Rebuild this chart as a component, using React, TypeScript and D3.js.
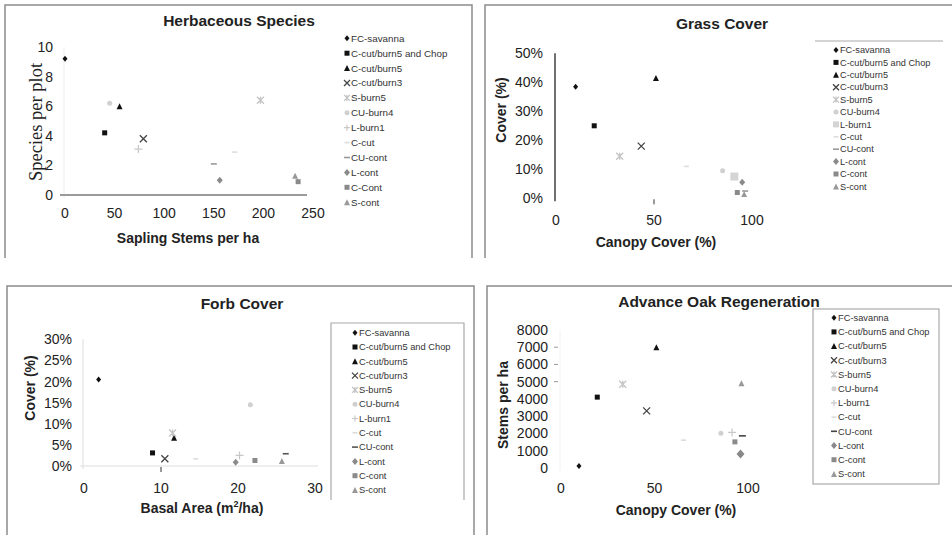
import React, { useEffect, useRef } from "react";
import * as d3 from "d3";

const seriesNames = [
  "FC-savanna",
  "C-cut/burn5 and Chop",
  "C-cut/burn5",
  "C-cut/burn3",
  "S-burn5",
  "CU-burn4",
  "L-burn1",
  "C-cut",
  "CU-cont",
  "L-cont",
  "C-cont",
  "S-cont",
];
const herbLegend = seriesNames.map((n) => (n === "C-cont" ? "C-Cont" : n));

// Herbaceous species vs sapling stems
const herbX = [0, 40, 55, 79, 197, 45, 74, 171, 150, 156, 235, 232];
const herbY = [9.2, 4.2, 6.0, 3.8, 6.4, 6.2, 3.1, 2.9, 2.1, 1.0, 0.9, 1.3];

// Grass cover vs canopy cover
const grassX = [10, 19.5, 51, 43.5, 32.5, 85, 91, 66.5, 96.5, 95, 92.5, 96];
const grassY = [0.385, 0.25, 0.415, 0.18, 0.145, 0.095, 0.075, 0.11, 0.025, 0.055, 0.02, 0.015];

// Forb cover vs basal area
const forbX = [1.9, 8.9, 11.7, 10.5, 11.5, 21.6, 20.2, 14.5, 26.2, 19.7, 22.2, 25.7];
const forbY = [0.205, 0.031, 0.067, 0.017, 0.078, 0.145, 0.025, 0.017, 0.029, 0.009, 0.013, 0.012];

// Advance oak regeneration vs canopy cover
const oakX = [9.6, 19.4, 51, 45.8, 33, 85.5, 91.5, 65.5, 97, 96, 93, 96.5];
const oakY = [100, 4100, 7000, 3300, 4850, 2000, 2050, 1600, 1850, 800, 1500, 4900];

const herbXTicks = [0, 50, 100, 150, 200, 250];
const herbYTicks = [0, 2, 4, 6, 8, 10];
const coverXTicks = [0, 50, 100];
const grassYTicks = [0, 0.1, 0.2, 0.3, 0.4, 0.5];
const forbXTicks = [0, 10, 20, 30];
const forbYTicks = [0, 0.05, 0.1, 0.15, 0.2, 0.25, 0.3];
const oakYTicks = [0, 1000, 2000, 3000, 4000, 5000, 6000, 7000, 8000];

type Mk = { t: string; s: number; c: string };
const baseMarks: Mk[] = [
  { t: "diamond", s: 5, c: "#111" },
  { t: "square", s: 5, c: "#111" },
  { t: "triangle", s: 6, c: "#111" },
  { t: "x", s: 7, c: "#444" },
  { t: "star", s: 7, c: "#c4c4c4" },
  { t: "circle", s: 5, c: "#d0d0d0" },
  { t: "plus", s: 8, c: "#c8c8c8" },
  { t: "dash", s: 5, c: "#dcdcdc" },
  { t: "dash", s: 6, c: "#999" },
  { t: "diamond", s: 6, c: "#8a8a8a" },
  { t: "square", s: 5, c: "#8a8a8a" },
  { t: "triangle", s: 6, c: "#999" },
];

function drawMark(g: any, m: Mk, x: number, y: number) {
  const h = m.s / 2;
  if (m.t === "diamond") {
    g.append("path").attr("d", `M${x},${y - h - 0.5}L${x + h},${y}L${x},${y + h + 0.5}L${x - h},${y}Z`).attr("fill", m.c);
  } else if (m.t === "square") {
    g.append("rect").attr("x", x - h).attr("y", y - h).attr("width", m.s).attr("height", m.s).attr("fill", m.c);
  } else if (m.t === "triangle") {
    g.append("path").attr("d", `M${x},${y - h}L${x + h},${y + h}L${x - h},${y + h}Z`).attr("fill", m.c);
  } else if (m.t === "circle") {
    g.append("circle").attr("cx", x).attr("cy", y).attr("r", h).attr("fill", m.c);
  } else if (m.t === "x") {
    g.append("path").attr("d", `M${x - h},${y - h}L${x + h},${y + h}M${x + h},${y - h}L${x - h},${y + h}`).attr("stroke", m.c).attr("stroke-width", 1.3);
  } else if (m.t === "star") {
    g.append("path").attr("d", `M${x - h},${y - h}L${x + h},${y + h}M${x + h},${y - h}L${x - h},${y + h}M${x},${y - h}L${x},${y + h}`).attr("stroke", m.c).attr("stroke-width", 1.3);
  } else if (m.t === "plus") {
    g.append("path").attr("d", `M${x - h},${y}L${x + h},${y}M${x},${y - h}L${x},${y + h}`).attr("stroke", m.c).attr("stroke-width", 1.2);
  } else if (m.t === "dash") {
    g.append("path").attr("d", `M${x - h},${y}L${x + h},${y}`).attr("stroke", m.c).attr("stroke-width", 1.6);
  }
}

const App: React.FC = () => {
  const svgRef = useRef<SVGSVGElement>(null);

  useEffect(() => {
    if (!svgRef.current) return;
    const svg = d3.select(svgRef.current);
    svg.selectAll("*").remove();

    const panels = [
      {
        title: "Herbaceous Species", tx: 239, ty: 26,
        frame: `M5,258V5H472V258`,
        x: d3.scaleLinear().domain([0, 250]).range([65, 313]),
        y: d3.scaleLinear().domain([0, 10]).range([195, 47]),
        xTicks: herbXTicks, yTicks: herbYTicks, yFmt: d3.format("d"),
        xTickY: 218, yTickX: 53,
        xLabel: "Sapling Stems per ha", xlx: 188, xly: 243,
        yLabel: "Species per plot", ylx: 42, yly: 122, serif: true,
        xs: herbX, ys: herbY, names: herbLegend, marks: baseMarks,
        xAxis: { c: "#9a9a9a", w: 2, x0: 60, x1: 307 }, yAxis: { c: "#eee", w: 1 },
        leg: { x: 347, y0: 38.3, dy: 14.9, fs: 9.8, box: null as any },
      },
      {
        title: "Grass Cover", tx: 722, ty: 29,
        frame: `M485,258V5H952`,
        x: d3.scaleLinear().domain([0, 100]).range([556, 752]),
        y: d3.scaleLinear().domain([0, 0.5]).range([198.3, 53.3]),
        xTicks: coverXTicks, yTicks: grassYTicks, yFmt: d3.format(".0%"),
        xTickY: 225, yTickX: 543,
        xLabel: "Canopy Cover (%)", xlx: 656, xly: 247,
        yLabel: "Cover (%)", ylx: 506, yly: 110, serif: false,
        xs: grassX, ys: grassY, names: seriesNames,
        marks: baseMarks.map((m, i) => (i === 6 ? { t: "square", s: 8, c: "#d4d4d4" } : m)),
        xAxis: null as any, yAxis: { c: "#111", w: 1.2 }, xTickMark: 50,
        leg: { x: 836, y0: 50, dy: 12.4, fs: 9.2, box: { x0: 815, x1: 943, y0: 41, top: true } },
      },
      {
        title: "Forb Cover", tx: 242, ty: 309,
        frame: `M7,540V286H474V540`,
        x: d3.scaleLinear().domain([0, 30]).range([84, 315]),
        y: d3.scaleLinear().domain([0, 0.3]).range([466, 339.3]),
        xTicks: forbXTicks, yTicks: forbYTicks, yFmt: d3.format(".0%"),
        xTickY: 493, yTickX: 72,
        xLabel: "Basal Area (m", xlx: 202, xly: 513,
        yLabel: "Cover (%)", ylx: 35, yly: 388, serif: false,
        xs: forbX, ys: forbY, names: seriesNames,
        marks: baseMarks.map((m, i) => (i === 8 ? { t: "dash", s: 6, c: "#555" } : m)),
        xAxis: { c: "#ddd", w: 1, x0: 80, x1: 318 }, yAxis: { c: "#ddd", w: 1 }, xTickMark: 10,
        leg: { x: 355, y0: 332.7, dy: 14.3, fs: 9.3, box: { x0: 331, x1: 464, y0: 323, y1: 500, open: true } },
      },
      {
        title: "Advance Oak Regeneration", tx: 719, ty: 307,
        frame: `M487,540V286H952`,
        x: d3.scaleLinear().domain([0, 100]).range([561, 748]),
        y: d3.scaleLinear().domain([0, 8000]).range([467.7, 330]),
        xTicks: coverXTicks, yTicks: oakYTicks, yFmt: d3.format("d"),
        xTickY: 493, yTickX: 548,
        xLabel: "Canopy Cover (%)", xlx: 676, xly: 515,
        yLabel: "Stems per ha", ylx: 508, yly: 405, serif: false,
        xs: oakX, ys: oakY, names: seriesNames,
        marks: baseMarks.map((m, i) =>
          i === 8 ? { t: "dash", s: 7, c: "#444" } : i === 9 ? { t: "diamond", s: 8, c: "#888" } : m
        ),
        xAxis: null as any, yAxis: { c: "#f2f2f2", w: 1 }, yTickMarks: [5000, 6000, 7000],
        leg: { x: 834, y0: 317.7, dy: 14.2, fs: 9.3, box: { x0: 813, x1: 939, y0: 309, y1: 484 } },
      },
    ];

    panels.forEach((p: any) => {
      const g = svg.append("g");
      g.append("path")
        .attr("d", p.frame)
        .attr("fill", "none")
        .attr("stroke", "#8c8c8c")
        .attr("stroke-width", 1.5);

      g.append("text")
        .attr("x", p.tx).attr("y", p.ty)
        .attr("text-anchor", "middle")
        .attr("font-family", "Liberation Sans, Arial, sans-serif")
        .attr("font-weight", "bold").attr("font-size", 15.5).attr("fill", "#222")
        .text(p.title);

      const [xr0] = p.x.range();
      const [yb, yt] = p.y.range();
      // axes
      g.append("line")
        .attr("x1", xr0 - 1).attr("x2", xr0 - 1).attr("y1", yt).attr("y2", yb + 3)
        .attr("stroke", p.yAxis.c).attr("stroke-width", p.yAxis.w);
      if (p.xAxis) {
        g.append("line")
          .attr("x1", p.xAxis.x0).attr("x2", p.xAxis.x1).attr("y1", yb).attr("y2", yb)
          .attr("stroke", p.xAxis.c).attr("stroke-width", p.xAxis.w);
      }
      if (p.xTickMark !== undefined) {
        g.append("line")
          .attr("x1", p.x(p.xTickMark)).attr("x2", p.x(p.xTickMark))
          .attr("y1", yb + 1).attr("y2", yb + 6)
          .attr("stroke", "#333").attr("stroke-width", 1);
      }
      (p.yTickMarks || []).forEach((v: number) => {
        g.append("line")
          .attr("x1", xr0 - 7).attr("x2", xr0 - 3).attr("y1", p.y(v)).attr("y2", p.y(v))
          .attr("stroke", "#999").attr("stroke-width", 1);
      });

      const tickFont = "Liberation Sans, Arial, sans-serif";
      p.xTicks.forEach((v: number) => {
        g.append("text")
          .attr("x", p.x(v)).attr("y", p.xTickY)
          .attr("text-anchor", "middle")
          .attr("font-family", tickFont).attr("font-size", 14).attr("fill", "#222")
          .text(v);
      });
      p.yTicks.forEach((v: number) => {
        g.append("text")
          .attr("x", p.yTickX).attr("y", p.y(v)).attr("dy", "0.36em")
          .attr("text-anchor", "end")
          .attr("font-family", tickFont).attr("font-size", 14).attr("fill", "#222")
          .text(p.yFmt(v));
      });

      const xl = g.append("text")
        .attr("x", p.xlx).attr("y", p.xly)
        .attr("text-anchor", "middle")
        .attr("font-family", tickFont).attr("font-weight", "bold")
        .attr("font-size", 14).attr("fill", "#222");
      if (p.xLabel === "Basal Area (m") {
        xl.append("tspan").text("Basal Area (m");
        xl.append("tspan").attr("dy", -6).attr("font-size", 9).text("2");
        xl.append("tspan").attr("dy", 6).text("/ha)");
      } else {
        xl.text(p.xLabel);
      }

      g.append("text")
        .attr("transform", `translate(${p.ylx},${p.yly}) rotate(-90)`)
        .attr("text-anchor", "middle")
        .attr("font-family", p.serif ? "Liberation Serif, Times New Roman, serif" : tickFont)
        .attr("font-weight", p.serif ? "normal" : "bold")
        .attr("font-size", p.serif ? 18.5 : 14).attr("fill", "#222")
        .text(p.yLabel);

      // points
      const pts = g.append("g");
      p.xs.forEach((xv: number, i: number) => {
        drawMark(pts, p.marks[i], p.x(xv), p.y(p.ys[i]));
      });

      // legend
      const L = p.leg;
      if (L.box) {
        if (L.box.top) {
          g.append("line").attr("x1", L.box.x0).attr("x2", L.box.x1).attr("y1", L.box.y0).attr("y2", L.box.y0)
            .attr("stroke", "#aaa").attr("stroke-width", 1.2);
        } else if (L.box.open) {
          g.append("path").attr("d", `M${L.box.x0},${L.box.y1}V${L.box.y0}H${L.box.x1}V${L.box.y1}`)
            .attr("fill", "none").attr("stroke", "#aaa").attr("stroke-width", 1.2);
        } else {
          g.append("rect").attr("x", L.box.x0).attr("y", L.box.y0)
            .attr("width", L.box.x1 - L.box.x0).attr("height", L.box.y1 - L.box.y0)
            .attr("fill", "none").attr("stroke", "#aaa").attr("stroke-width", 1.2);
        }
      }
      p.names.forEach((n: string, i: number) => {
        const ly = L.y0 + i * L.dy;
        const m = p.marks[i];
        drawMark(g, { t: m.t, s: Math.min(m.s, 6), c: m.c }, L.x, ly);
        g.append("text")
          .attr("x", L.x + 4).attr("y", ly).attr("dy", "0.35em")
          .attr("font-family", tickFont).attr("font-size", L.fs).attr("fill", "#333")
          .text(n);
      });
    });
  }, []);

  return (
    <>
      <style>{`body{margin:0}`}</style>
      <svg ref={svgRef} width={952} height={535} style={{ display: "block", background: "#fff" }} />
    </>
  );
};

export default App;
